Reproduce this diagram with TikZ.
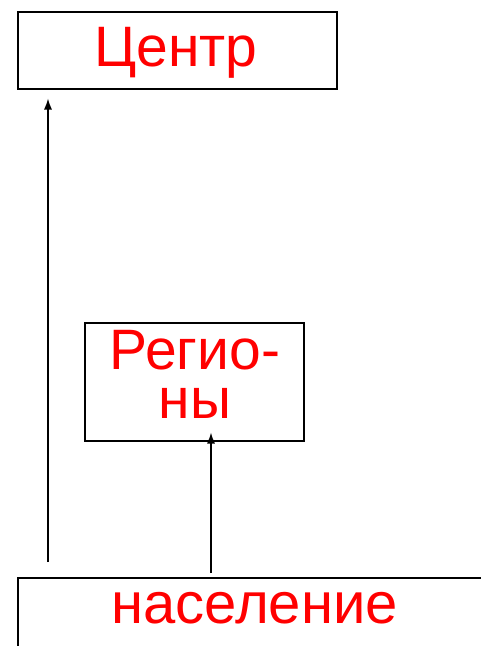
\documentclass[tikz,border=0pt]{standalone}
\usepackage{fontspec}
\setmainfont{Liberation Sans}
\usetikzlibrary{arrows.meta}
\begin{document}
\begin{tikzpicture}[x=1pt,y=-1pt,
  box/.style={draw=black,line width=1.5pt,inner sep=0pt,anchor=north west},
  lbl/.style={text=red,inner sep=0pt,anchor=base},
  conn/.style={line width=1.4pt,-{Latex[length=11pt,width=8pt]}}]
\useasboundingbox (0,0) rectangle (481,646);
\clip (0,0) rectangle (481,646);
\node[box,minimum width=319pt,minimum height=77pt] (centr) at (17,11) {};
\node[box,minimum width=219pt,minimum height=118pt] (reg) at (84,322) {};
\node[box,minimum width=475pt,minimum height=100pt] (nas) at (17,577) {};
\node[lbl,font=\fontsize{57}{57}\selectfont] (tcentr) at (176,66.7) {Центр};
\node[lbl,align=center,font=\fontsize{57}{49}\selectfont] (treg) at (195,418.3) {Регио-\\ны};
\node[lbl,font=\fontsize{58}{58}\selectfont] (tnas) at (254.7,623.3) {население};
\coordinate (a1s) at ([xshift=31pt,yshift=15pt]nas.north west);
\coordinate (a1e) at ([xshift=31pt,yshift=-9pt]centr.south west);
\coordinate (a2s) at ([xshift=194pt,yshift=4pt]nas.north west);
\coordinate (a2e) at ([xshift=127pt,yshift=9pt]reg.south west);
\draw[conn] (a1s) -- (a1e);
\draw[conn] (a2s) -- (a2e);
\end{tikzpicture}
\end{document}
